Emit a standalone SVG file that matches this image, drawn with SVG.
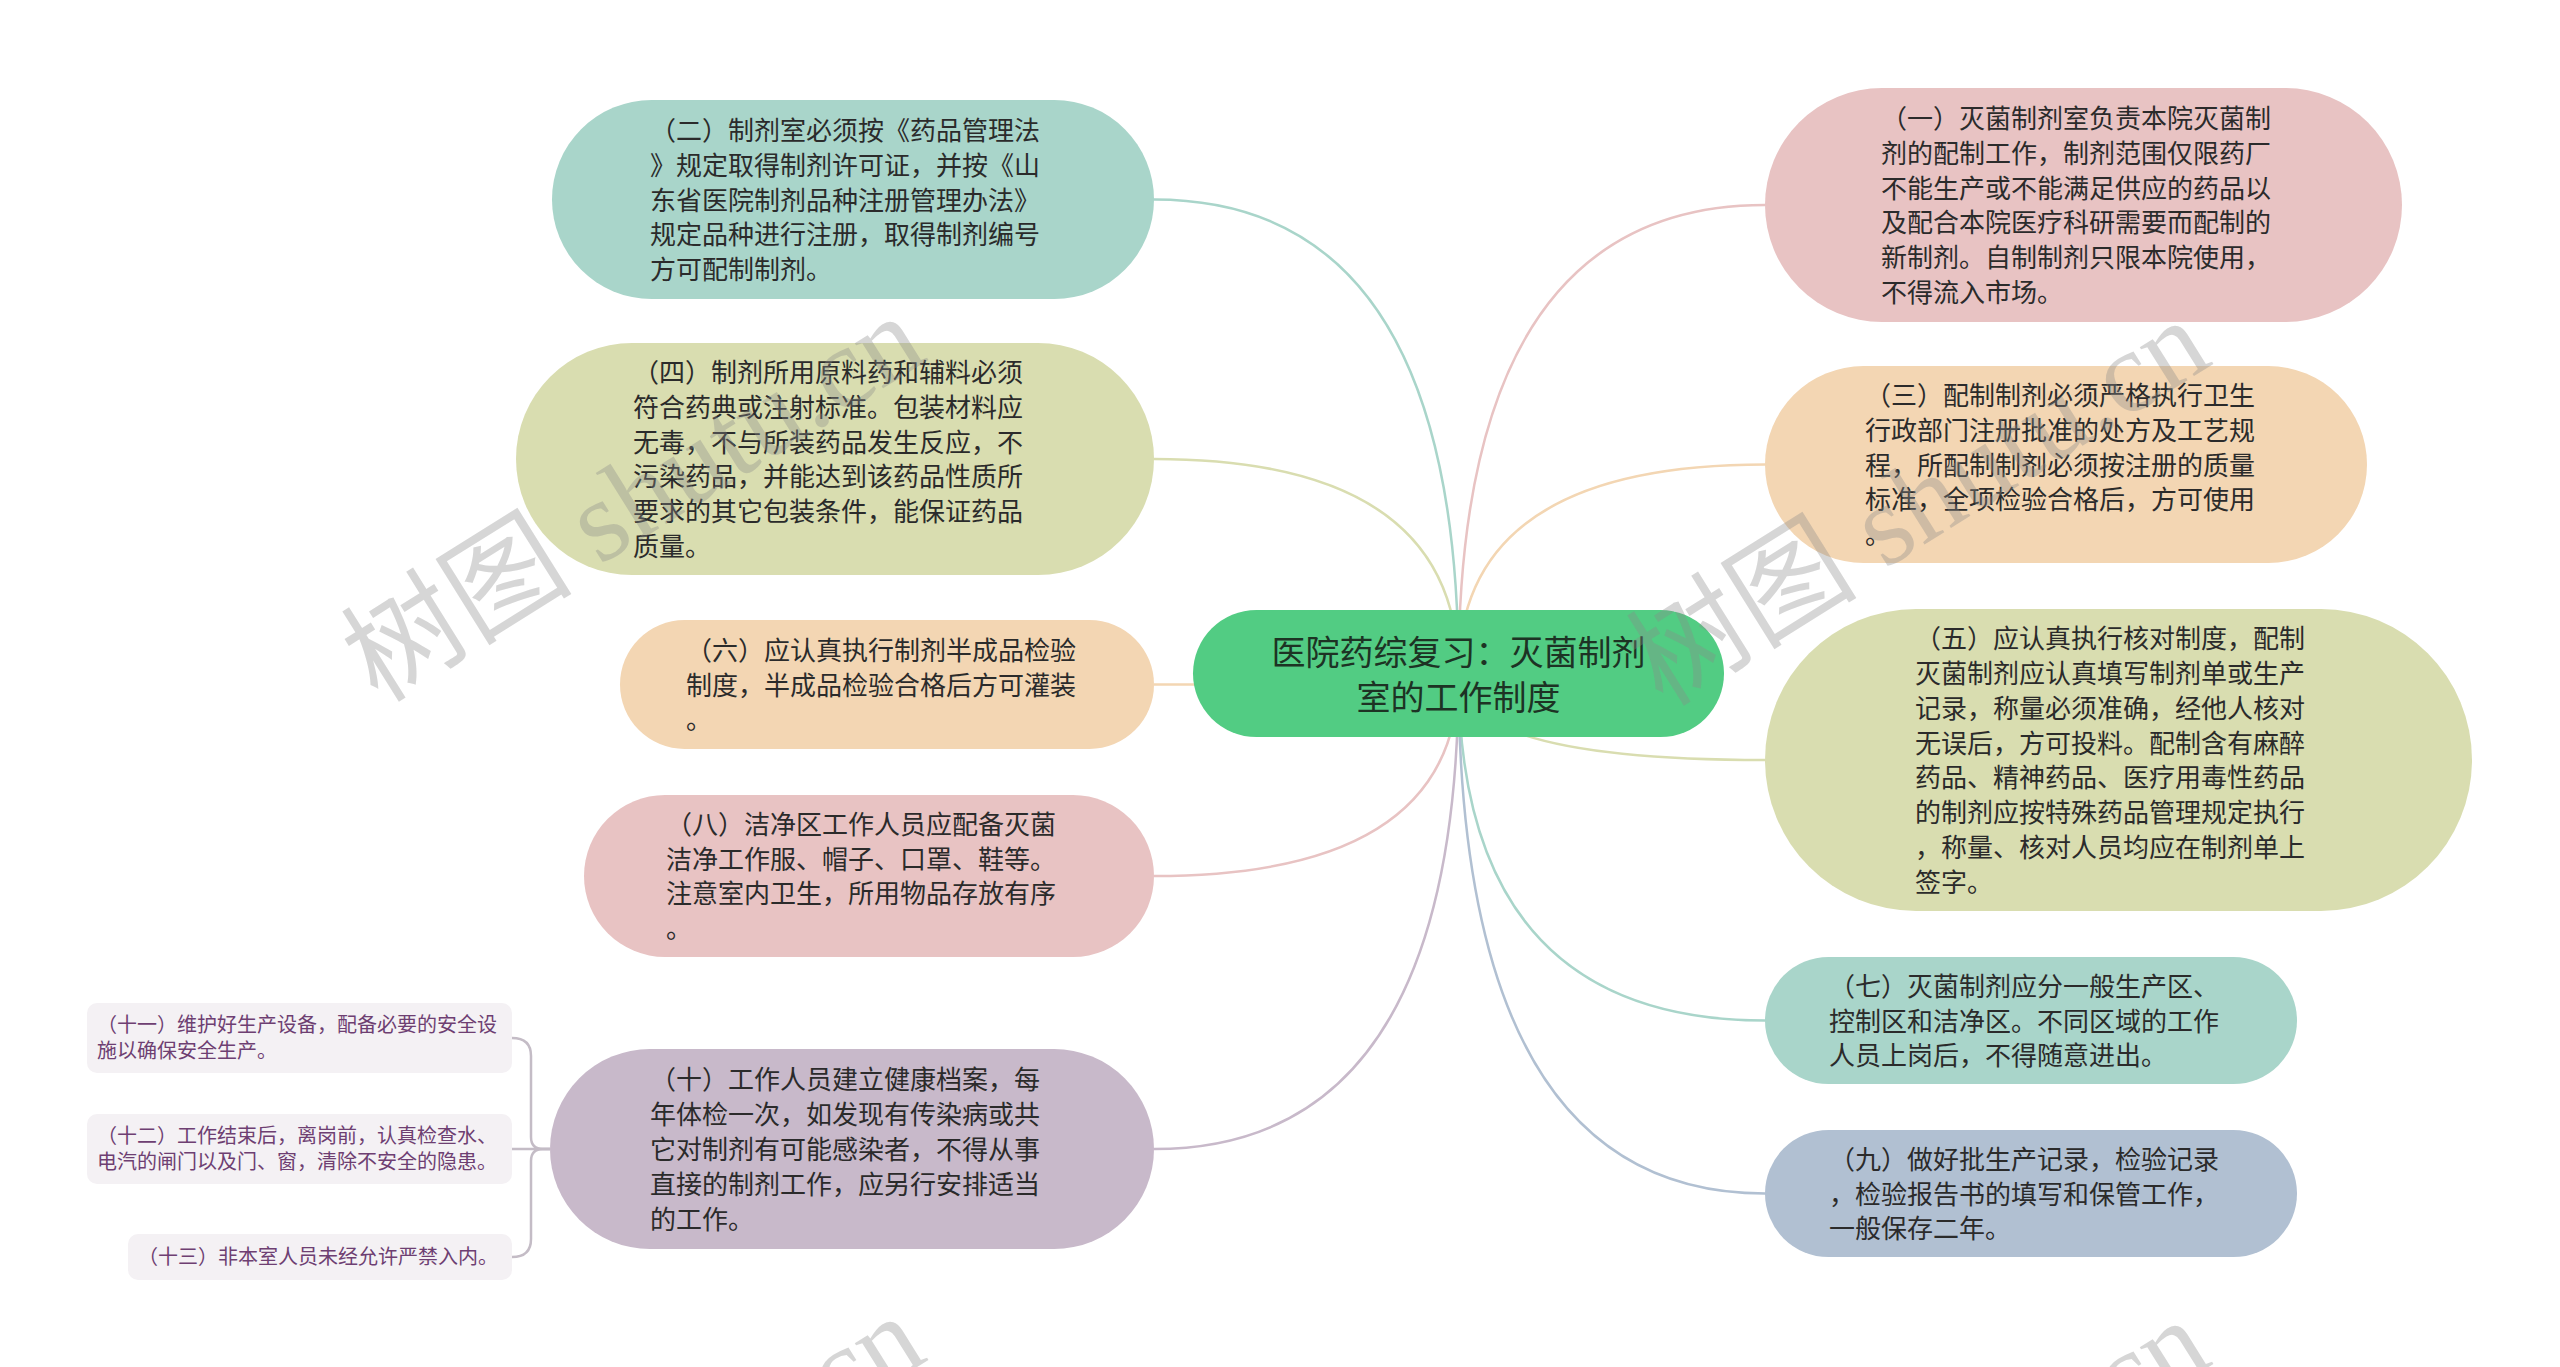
<svg xmlns="http://www.w3.org/2000/svg" width="2560" height="1367" viewBox="0 0 2560 1367">
<style>
.t{font-family:"Noto Sans CJK SC","Noto Sans",sans-serif;font-size:26px;fill:#2b2b2b}
.root{font-family:"Noto Sans CJK SC","Noto Sans",sans-serif;font-size:34px;fill:#1d3324}
.s{font-family:"Noto Sans CJK SC","Noto Sans",sans-serif;font-size:20px;fill:#6e3f72}
.c{fill:none;stroke-width:2.5}
.wm{font-family:"Liberation Serif","Noto Sans CJK SC",serif;font-size:116px;fill:#8a8a8a;fill-opacity:0.35}
</style>
<rect width="2560" height="1367" fill="#ffffff"/>
<g id="connectors">
<path class="c" stroke="#a9d5ca" d="M1458.5 673.5 Q1458.5 199.5 1154 199.5"/>
<path class="c" stroke="#d9ddb0" d="M1458.5 673.5 Q1458.5 459 1154 459"/>
<path class="c" stroke="#f3d6b3" d="M1458.5 673.5 Q1458.5 684.5 1154 684.5"/>
<path class="c" stroke="#e8c3c3" d="M1458.5 673.5 Q1458.5 876 1154 876"/>
<path class="c" stroke="#c8b9ca" d="M1458.5 673.5 Q1458.5 1149 1154 1149"/>
<path class="c" stroke="#e8c3c3" d="M1458.5 673.5 Q1458.5 205 1765 205"/>
<path class="c" stroke="#f3d6b3" d="M1458.5 673.5 Q1458.5 464.5 1765 464.5"/>
<path class="c" stroke="#d9ddb0" d="M1458.5 673.5 Q1458.5 760 1765 760"/>
<path class="c" stroke="#a9d5ca" d="M1458.5 673.5 Q1458.5 1020.5 1765 1020.5"/>
<path class="c" stroke="#b1c0d2" d="M1458.5 673.5 Q1458.5 1193.5 1765 1193.5"/>
<path class="c" stroke="#c4bcc6" d="M550 1149 L512 1149"/>
<path class="c" stroke="#c4bcc6" d="M550 1149 L543 1149 Q531 1149 531 1137 L531 1056 Q531 1038 512 1038"/>
<path class="c" stroke="#c4bcc6" d="M550 1149 L543 1149 Q531 1149 531 1161 L531 1239 Q531 1257 512 1257"/>
</g>
<g id="root">
<rect x="1193" y="610" width="531" height="127" rx="63.5" fill="#52cc83"/>
<text class="root" text-anchor="middle"><tspan x="1458.5" y="665">医院药综复习：灭菌制剂</tspan><tspan x="1458.5" y="710">室的工作制度</tspan></text>
</g>
<g id="n2">
<rect x="552" y="100" width="602" height="199" rx="99.5" fill="#a9d5ca"/>
<text class="t"><tspan x="650" y="140">（二）制剂室必须按《药品管理法</tspan><tspan x="650" y="175">》规定取得制剂许可证，并按《山</tspan><tspan x="650" y="209.5">东省医院制剂品种注册管理办法》</tspan><tspan x="650" y="244">规定品种进行注册，取得制剂编号</tspan><tspan x="650" y="279">方可配制制剂。</tspan></text>
</g>
<g id="n4">
<rect x="516" y="343" width="638" height="232" rx="116" fill="#d9ddb0"/>
<text class="t"><tspan x="633" y="382">（四）制剂所用原料药和辅料必须</tspan><tspan x="633" y="417">符合药典或注射标准。包装材料应</tspan><tspan x="633" y="452">无毒，不与所装药品发生反应，不</tspan><tspan x="633" y="486">污染药品，并能达到该药品性质所</tspan><tspan x="633" y="521">要求的其它包装条件，能保证药品</tspan><tspan x="633" y="556">质量。</tspan></text>
</g>
<g id="n6">
<rect x="620" y="620" width="534" height="129" rx="64.5" fill="#f3d6b3"/>
<text class="t"><tspan x="686" y="660">（六）应认真执行制剂半成品检验</tspan><tspan x="686" y="695">制度，半成品检验合格后方可灌装</tspan><tspan x="686" y="729">。</tspan></text>
</g>
<g id="n8">
<rect x="584" y="795" width="570" height="162" rx="81" fill="#e8c3c3"/>
<text class="t"><tspan x="666" y="834">（八）洁净区工作人员应配备灭菌</tspan><tspan x="666" y="869">洁净工作服、帽子、口罩、鞋等。</tspan><tspan x="666" y="903">注意室内卫生，所用物品存放有序</tspan><tspan x="666" y="938">。</tspan></text>
</g>
<g id="n10">
<rect x="550" y="1049" width="604" height="200" rx="100" fill="#c8b9ca"/>
<text class="t"><tspan x="650" y="1089">（十）工作人员建立健康档案，每</tspan><tspan x="650" y="1124">年体检一次，如发现有传染病或共</tspan><tspan x="650" y="1159">它对制剂有可能感染者，不得从事</tspan><tspan x="650" y="1194">直接的制剂工作，应另行安排适当</tspan><tspan x="650" y="1229">的工作。</tspan></text>
</g>
<g id="n11">
<rect x="87" y="1003" width="425" height="70" rx="10" fill="#f4f1f4"/>
<text class="s"><tspan x="97" y="1032">（十一）维护好生产设备，配备必要的安全设</tspan><tspan x="97" y="1058">施以确保安全生产。</tspan></text>
</g>
<g id="n12">
<rect x="87" y="1114" width="425" height="70" rx="10" fill="#f4f1f4"/>
<text class="s"><tspan x="97" y="1143">（十二）工作结束后，离岗前，认真检查水、</tspan><tspan x="97" y="1169">电汽的闸门以及门、窗，清除不安全的隐患。</tspan></text>
</g>
<g id="n13">
<rect x="128" y="1234" width="384" height="46" rx="10" fill="#f4f1f4"/>
<text class="s"><tspan x="138" y="1264">（十三）非本室人员未经允许严禁入内。</tspan></text>
</g>
<g id="n1">
<rect x="1765" y="88" width="637" height="234" rx="117" fill="#e8c3c3"/>
<text class="t"><tspan x="1881" y="128">（一）灭菌制剂室负责本院灭菌制</tspan><tspan x="1881" y="163">剂的配制工作，制剂范围仅限药厂</tspan><tspan x="1881" y="198">不能生产或不能满足供应的药品以</tspan><tspan x="1881" y="232">及配合本院医疗科研需要而配制的</tspan><tspan x="1881" y="267">新制剂。自制制剂只限本院使用，</tspan><tspan x="1881" y="302">不得流入市场。</tspan></text>
</g>
<g id="n3">
<rect x="1765" y="366" width="602" height="197" rx="98.5" fill="#f3d6b3"/>
<text class="t"><tspan x="1865" y="405">（三）配制制剂必须严格执行卫生</tspan><tspan x="1865" y="440">行政部门注册批准的处方及工艺规</tspan><tspan x="1865" y="474.5">程，所配制制剂必须按注册的质量</tspan><tspan x="1865" y="509">标准，全项检验合格后，方可使用</tspan><tspan x="1865" y="544">。</tspan></text>
</g>
<g id="n5">
<rect x="1765" y="609" width="707" height="302" rx="151" fill="#d9ddb0"/>
<text class="t"><tspan x="1915" y="648">（五）应认真执行核对制度，配制</tspan><tspan x="1915" y="683">灭菌制剂应认真填写制剂单或生产</tspan><tspan x="1915" y="718">记录，称量必须准确，经他人核对</tspan><tspan x="1915" y="753">无误后，方可投料。配制含有麻醉</tspan><tspan x="1915" y="787">药品、精神药品、医疗用毒性药品</tspan><tspan x="1915" y="822">的制剂应按特殊药品管理规定执行</tspan><tspan x="1915" y="857">，称量、核对人员均应在制剂单上</tspan><tspan x="1915" y="892">签字。</tspan></text>
</g>
<g id="n7">
<rect x="1765" y="957" width="532" height="127" rx="63.5" fill="#a9d5ca"/>
<text class="t"><tspan x="1829" y="996">（七）灭菌制剂应分一般生产区、</tspan><tspan x="1829" y="1030.5">控制区和洁净区。不同区域的工作</tspan><tspan x="1829" y="1065">人员上岗后，不得随意进出。</tspan></text>
</g>
<g id="n9">
<rect x="1765" y="1130" width="532" height="127" rx="63.5" fill="#b1c0d2"/>
<text class="t"><tspan x="1829" y="1169">（九）做好批生产记录，检验记录</tspan><tspan x="1829" y="1203.5">，检验报告书的填写和保管工作，</tspan><tspan x="1829" y="1238">一般保存二年。</tspan></text>
</g>
<g id="watermark">
<text class="wm" transform="translate(378 704) rotate(-32)">树图 shutu.cn</text>
<text class="wm" transform="translate(1663 708) rotate(-32)">树图 shutu.cn</text>
<text class="wm" transform="translate(378 1704) rotate(-32)">树图 shutu.cn</text>
<text class="wm" transform="translate(1663 1708) rotate(-32)">树图 shutu.cn</text>
</g>
</svg>
